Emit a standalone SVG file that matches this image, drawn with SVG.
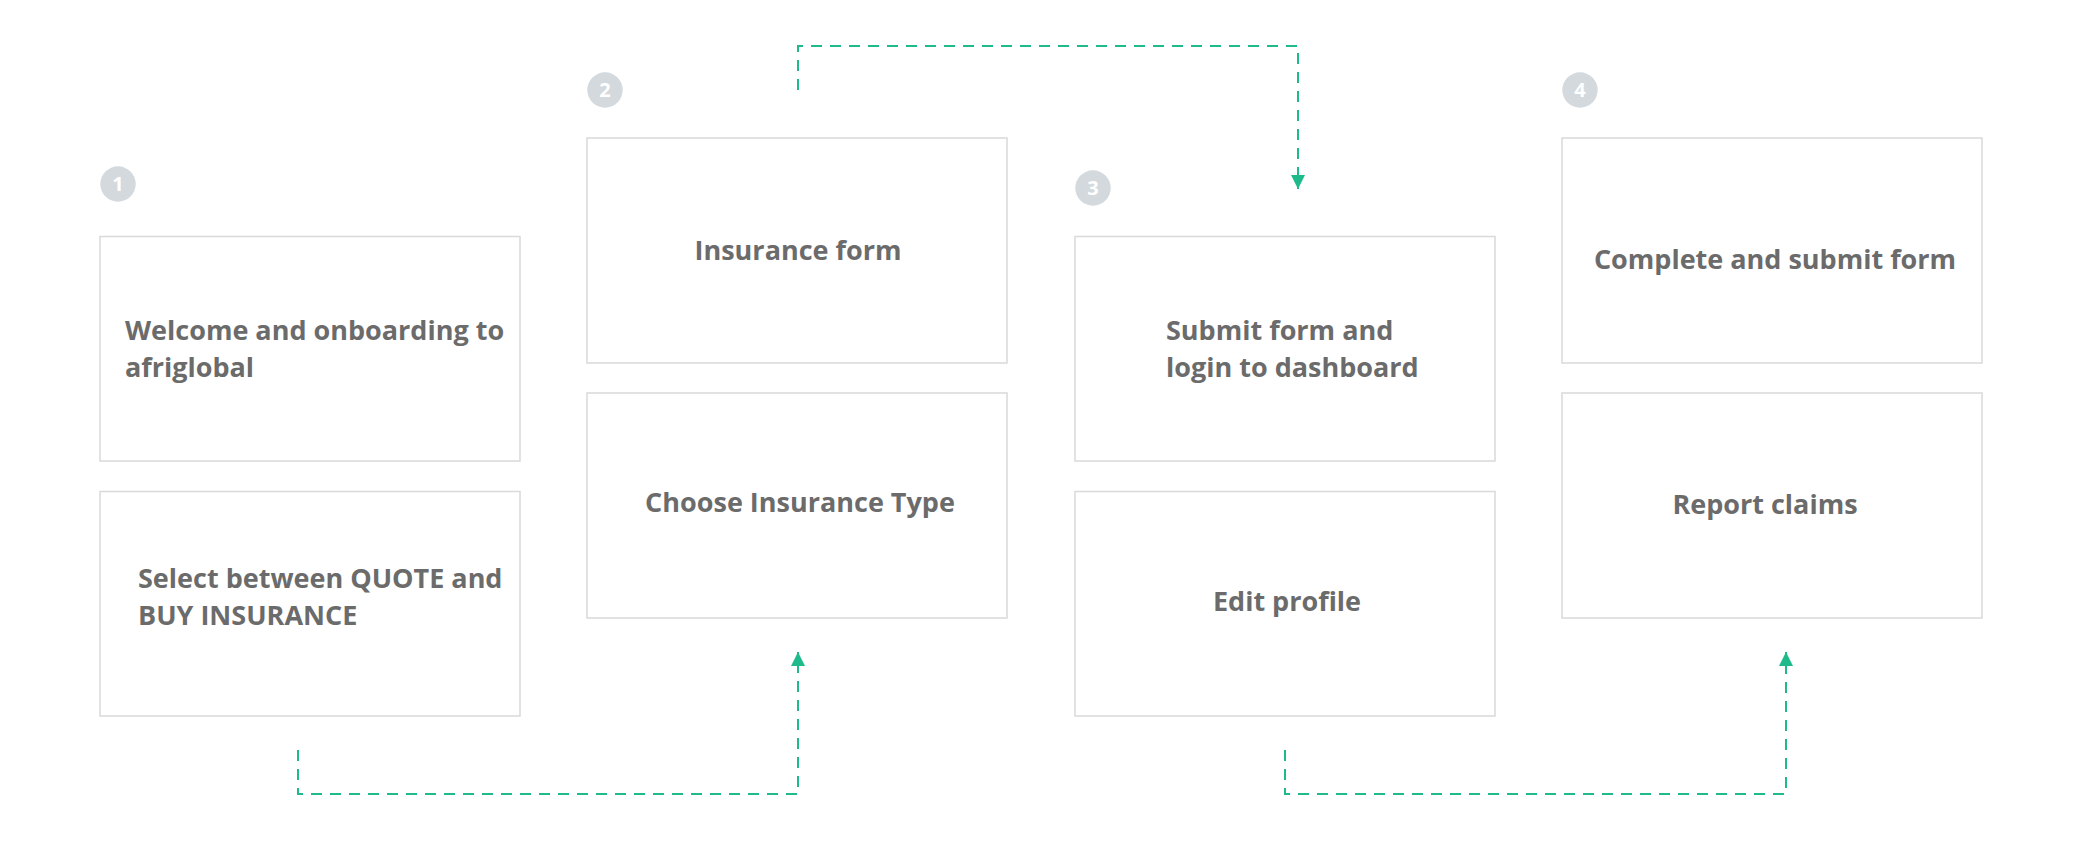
<svg xmlns="http://www.w3.org/2000/svg" width="2083" height="854" viewBox="0 0 2083 854">
<style>
.box{fill:#ffffff;stroke:#d9d9d9;stroke-width:1.5}
.t{font-family:"Open Sans","Liberation Sans",sans-serif;font-weight:700;font-size:27px;fill:#6b6b6b}
.c{text-anchor:middle}
.badge{fill:#d3d9dd}
.num{font-family:"Open Sans","Liberation Sans",sans-serif;font-weight:700;font-size:20px;fill:#ffffff;text-anchor:middle}
.conn{fill:none;stroke:#1fba8b;stroke-width:2;stroke-dasharray:11 8}
</style>
<defs>
<marker id="arr" viewBox="0 0 10 10" refX="10" refY="5" markerWidth="14" markerHeight="14" markerUnits="userSpaceOnUse" orient="auto">
<path d="M0,0 L10,5 L0,10 Z" fill="#1fba8b"/>
</marker>
</defs>
<rect width="2083" height="854" fill="#ffffff"/>
<g id="step1">
<circle class="badge" cx="118" cy="184" r="17.7"/>
<text class="num" x="118" y="191">1</text>
</g>
<g id="step2">
<circle class="badge" cx="605" cy="90" r="17.7"/>
<text class="num" x="605" y="97">2</text>
</g>
<g id="step3">
<circle class="badge" cx="1093" cy="188" r="17.7"/>
<text class="num" x="1093" y="195">3</text>
</g>
<g id="step4">
<circle class="badge" cx="1580" cy="90" r="17.7"/>
<text class="num" x="1580" y="97">4</text>
</g>
<g id="welcome">
<rect class="box" x="100" y="236.5" width="420" height="224.5"/>
<text class="t" x="125" y="340">Welcome and onboarding to</text>
<text class="t" x="125" y="377">afriglobal</text>
</g>
<g id="select">
<rect class="box" x="100" y="491.5" width="420" height="224.5"/>
<text class="t" x="138" y="588">Select between QUOTE and</text>
<text class="t" x="138" y="625">BUY INSURANCE</text>
</g>
<g id="insurance-form">
<rect class="box" x="587" y="138" width="420" height="225"/>
<text class="t c" x="798" y="260">Insurance form</text>
</g>
<g id="choose-type">
<rect class="box" x="587" y="393" width="420" height="225"/>
<text class="t c" x="800" y="512">Choose Insurance Type</text>
</g>
<g id="submit-login">
<rect class="box" x="1075" y="236.5" width="420" height="224.5"/>
<text class="t" x="1166" y="340">Submit form and</text>
<text class="t" x="1166" y="377">login to dashboard</text>
</g>
<g id="edit-profile">
<rect class="box" x="1075" y="491.5" width="420" height="224.5"/>
<text class="t c" x="1287" y="611">Edit profile</text>
</g>
<g id="complete-submit">
<rect class="box" x="1562" y="138" width="420" height="225"/>
<text class="t c" x="1775" y="269">Complete and submit form</text>
</g>
<g id="report-claims">
<rect class="box" x="1562" y="393" width="420" height="225"/>
<text class="t c" x="1765" y="514">Report claims</text>
</g>
<g id="connectors">
<path class="conn" d="M798,90 V46 H1298 V189" marker-end="url(#arr)"/>
<path class="conn" d="M298,750 V794 H798 V652" marker-end="url(#arr)"/>
<path class="conn" d="M1285,750 V794 H1786 V652" marker-end="url(#arr)"/>
</g>
</svg>
